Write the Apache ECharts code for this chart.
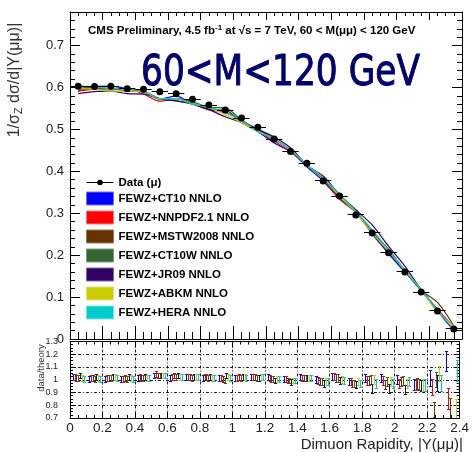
<!DOCTYPE html>
<html>
<head>
<meta charset="utf-8">
<script src="https://cdn.jsdelivr.net/npm/echarts@6/dist/echarts.min.js"></script>
<style>
  html, body { margin: 0; padding: 0; background: #fff; }
  #chart { width: 472px; height: 452px; }
</style>
</head>
<body>
<div id="chart"></div>
<script>
// Bin centres of |Y(mumu)| (bin width 0.1)
const rapidity = [0.05, 0.15, 0.25, 0.35, 0.45, 0.55, 0.65, 0.75, 0.85, 0.95, 1.05, 1.15,
                  1.25, 1.35, 1.45, 1.55, 1.65, 1.75, 1.85, 1.95, 2.05, 2.15, 2.25, 2.35];

// Measured normalised cross section 1/sigma dsigma/d|Y|
const dataXsec = [0.603, 0.602, 0.603, 0.597, 0.596, 0.590, 0.585, 0.572, 0.558, 0.546, 0.527, 0.505,
                  0.477, 0.447, 0.419, 0.377, 0.341, 0.296, 0.253, 0.206, 0.160, 0.112, 0.0668, 0.0239];

// data/theory ratios for each PDF set
const ratioCT10    = [1.02, 1.00, 1.00, 1.00, 1.01, 1.03, 1.01, 1.02, 1.01, 1.01, 1.01, 1.02,
                      1.02, 1.00, 1.02, 1.00, 1.02, 0.98, 1.01, 1.01, 1.00, 0.96, 1.01, 1.145];
const ratioNNPDF   = [1.02, 1.01, 1.01, 1.00, 1.02, 1.04, 1.02, 1.02, 1.02, 1.01, 1.01, 1.02,
                      1.01, 1.00, 1.01, 0.99, 1.02, 0.98, 0.99, 0.99, 0.97, 0.96, 0.94, 0.85];
const ratioMSTW    = [1.01, 1.01, 1.01, 1.01, 1.01, 1.03, 1.03, 1.02, 1.02, 1.00, 1.02, 1.02,
                      1.00, 0.99, 1.01, 0.98, 1.01, 0.97, 0.99, 0.96, 0.98, 0.965, 0.765, 0.77];
const ratioCT10W   = [1.01, 1.00, 1.01, 1.00, 1.01, 1.03, 1.02, 1.01, 1.01, 0.99, 1.01, 1.01,
                      1.00, 0.99, 1.01, 0.98, 1.01, 0.97, 1.00, 0.98, 0.99, 0.96, 1.00, null];
const ratioJR09    = [1.03, 1.02, 1.02, 1.02, 1.02, 1.03, 1.03, 1.02, 1.02, 1.03, 1.02, 1.01,
                      0.99, 0.98, 1.01, 0.97, 0.99, 0.96, 0.93, 0.93, 0.92, 0.95, 0.97, null];
const ratioABKM    = [1.01, 1.01, 1.02, 1.01, 1.01, 1.03, 1.02, 1.02, 1.01, 1.02, 1.02, 1.02,
                      1.00, 0.99, 1.01, 0.98, 1.00, 0.98, 1.00, 0.98, 0.97, 0.955, 1.045, 0.765];
const ratioHERA    = [1.00, 1.00, 1.01, 1.00, 1.01, 1.03, 1.02, 1.02, 1.01, 1.01, 1.01, 1.02,
                      1.00, 0.99, 1.01, 0.98, 0.99, 0.97, 0.97, 0.97, 0.98, 0.955, 0.97, 1.07];

// Uncertainty on the ratio in each bin
const ratioErr = [0.022, 0.022, 0.022, 0.022, 0.022, 0.022, 0.022, 0.022, 0.022, 0.022, 0.022, 0.022,
                  0.022, 0.022, 0.022, 0.028, 0.028, 0.028, 0.035, 0.035, 0.035, 0.045, 0.06, 0.08];

const theoryNames = ['FEWZ+CT10 NNLO', 'FEWZ+NNPDF2.1 NNLO', 'FEWZ+MSTW2008 NNLO', 'FEWZ+CT10W NNLO',
                     'FEWZ+JR09 NNLO', 'FEWZ+ABKM NNLO', 'FEWZ+HERA NNLO'];
const theoryRatios = [ratioCT10, ratioNNPDF, ratioMSTW, ratioCT10W, ratioJR09, ratioABKM, ratioHERA];
const theoryColors = ['#0000ff', '#ff0000', '#663300', '#336633', '#330066', '#cccc00', '#00cccc'];
const theoryEdges  = ['#7070ff', '#ff7a7a', '#9a7a5a', '#7a9a7a', '#7a6a9a', '#e4e47a', '#7ae4e4'];
// horizontal placement of each set's ratio marker inside its bin
const ratioShift = [0.02, 0.032, 0.043, 0.055, 0.066, 0.078, 0.09];

const dataName = 'Data (\u03bc)';
const FONT = 'Liberation Sans, Arial, Helvetica, sans-serif';

const chart = echarts.init(document.getElementById('chart'), null, { renderer: 'canvas' });

function crisp(v) { return Math.round(v - 0.5) + 0.5; }

function ratioBar(params, api) {
  const x = api.value(0), r = api.value(1), e = api.value(2);
  const top = api.coord([x, r + e]);
  const bot = api.coord([x, r - e]);
  const c = api.visual('color');
  const px = crisp(top[0]);
  const hw = 1.6;
  const st = { stroke: c, lineWidth: 1 };
  return {
    type: 'group',
    children: [
      { type: 'line', shape: { x1: px, y1: top[1], x2: px, y2: bot[1] }, style: st },
      { type: 'line', shape: { x1: px - hw, y1: crisp(top[1]), x2: px + hw, y2: crisp(top[1]) }, style: st },
      { type: 'line', shape: { x1: px - hw, y1: crisp(bot[1]), x2: px + hw, y2: crisp(bot[1]) }, style: st }
    ]
  };
}

function binBar(params, api) {
  const x = api.value(0), y = api.value(1);
  const a = api.coord([x - 0.05, y]);
  const b = api.coord([x + 0.05, y]);
  return {
    type: 'line',
    shape: { x1: a[0], y1: crisp(a[1]), x2: b[0], y2: crisp(b[1]) },
    style: { stroke: '#000', lineWidth: 1 }
  };
}

const series = [];

// Theory curves in the upper panel: data / (data/theory)
theoryNames.forEach((name, k) => {
  const r = theoryRatios[k];
  series.push({
    name: name,
    type: 'line',
    xAxisIndex: 0, yAxisIndex: 0,
    data: rapidity.map((x, i) => [x, r[i] == null ? '-' : dataXsec[i] / r[i]]),
    showSymbol: false,
    symbol: 'none',
    smooth: 0.3,
    color: theoryColors[k],
    lineStyle: { color: theoryColors[k], width: 1.2 },
    z: 2,
    silent: true
  });
});

// Bin-width bars of the measurement
series.push({
  name: 'dataBins',
  type: 'custom',
  xAxisIndex: 0, yAxisIndex: 0,
  renderItem: binBar,
  data: rapidity.map((x, i) => [x, dataXsec[i]]),
  encode: { x: 0, y: 1 },
  z: 3,
  silent: true
});

// Measured points
series.push({
  name: dataName,
  type: 'line',
  xAxisIndex: 0, yAxisIndex: 0,
  data: rapidity.map((x, i) => [x, dataXsec[i]]),
  symbol: 'circle',
  symbolSize: 7,
  showSymbol: true,
  color: '#000',
  itemStyle: { color: '#000' },
  lineStyle: { opacity: 0 },
  z: 4,
  silent: true
});

// Ratio markers in the lower panel
theoryNames.forEach((name, k) => {
  const r = theoryRatios[k];
  const pts = [];
  rapidity.forEach((x, i) => {
    if (r[i] != null) pts.push([x - 0.05 + ratioShift[k], r[i], ratioErr[i]]);
  });
  series.push({
    name: name + ' ratio',
    type: 'custom',
    xAxisIndex: 2, yAxisIndex: 2,
    renderItem: ratioBar,
    data: pts,
    encode: { x: 0, y: 1 },
    color: theoryColors[k],
    itemStyle: { color: theoryColors[k] },
    clip: true,
    z: 3,
    silent: true
  });
});

const black = { color: '#000', width: 1 };
const dashed = { color: '#222', width: 1, type: [3, 2, 1, 2] };

function xAxisCfg(grid, pos, majorLen, minorLen, labels, split) {
  return {
    gridIndex: grid, type: 'value', position: pos,
    min: 0, max: 2.4, interval: 0.2,
    axisLine: { show: true, onZero: false, lineStyle: black },
    axisTick: { show: true, inside: true, length: majorLen, lineStyle: black },
    minorTick: { show: true, splitNumber: 4, length: minorLen, lineStyle: black },
    axisLabel: labels ? {
      show: true, margin: 3, color: '#222', fontSize: 13.5, fontFamily: FONT,
      showMinLabel: true, showMaxLabel: true,
      formatter: v => String(+v.toFixed(1))
    } : { show: false },
    splitLine: split ? { show: true, lineStyle: dashed } : { show: false },
    minorSplitLine: { show: false }
  };
}

function yAxisCfg(grid, pos, min, max, minorSplit, majorLen, minorLen, labels, split) {
  return {
    gridIndex: grid, type: 'value', position: pos,
    min: min, max: max, interval: 0.1,
    axisLine: { show: true, onZero: false, lineStyle: black },
    axisTick: { show: true, inside: true, length: majorLen, lineStyle: black },
    minorTick: { show: true, splitNumber: minorSplit, length: minorLen, lineStyle: black },
    axisLabel: labels ? Object.assign({
      show: true, color: '#222', fontFamily: FONT,
      showMinLabel: true, showMaxLabel: true,
      formatter: v => (Math.abs(v * 10 - Math.round(v * 10)) < 1e-6 ? String(+v.toFixed(1)) : '')
    }, labels) : { show: false },
    splitLine: split ? { show: true, lineStyle: dashed } : { show: false }
  };
}

const option = {
  animation: false,
  backgroundColor: '#fff',
  grid: [
    { left: 70, top: 12, width: 392, height: 327 },
    { left: 70, top: 341.5, width: 392, height: 76.5 }
  ],
  xAxis: [
    xAxisCfg(0, 'bottom', 13, 7, false, false),
    xAxisCfg(0, 'top', 8, 4, false, false),
    xAxisCfg(1, 'bottom', 6, 3, true, true),
    xAxisCfg(1, 'top', 6, 3, false, false)
  ],
  yAxis: [
    yAxisCfg(0, 'left', 0, 0.78, 5, 10, 5, { fontSize: 13, margin: 6 }, false),
    yAxisCfg(0, 'right', 0, 0.78, 5, 10, 5, null, false),
    yAxisCfg(1, 'left', 0.7, 1.3, 4, 6, 3, { fontSize: 9, margin: 12 }, true),
    yAxisCfg(1, 'right', 0.7, 1.3, 4, 6, 3, null, false)
  ],
  legend: [
    {
      data: [{ name: dataName, lineStyle: { color: '#000', width: 1, opacity: 1 } }],
      orient: 'vertical', left: 86, top: 176.5, padding: 0,
      itemWidth: 27, itemHeight: 7,
      lineStyle: { color: '#000', width: 1, opacity: 1 },
      textStyle: { color: '#000', fontSize: 11.5, fontWeight: 'bold', fontFamily: FONT },
      selectedMode: false
    },
    {
      data: theoryNames.map((n, k) => ({
        name: n, icon: 'rect',
        itemStyle: { color: theoryColors[k], borderColor: theoryEdges[k], borderWidth: 1 }
      })),
      orient: 'vertical', left: 86, top: 191.5, padding: 0,
      itemWidth: 27, itemHeight: 13, itemGap: 5,
      textStyle: { color: '#000', fontSize: 11.5, fontWeight: 'bold', fontFamily: FONT },
      selectedMode: false
    }
  ],
  graphic: [
    {
      type: 'text', x: 141, y: 74, scaleX: 0.8, z: 10,
      style: {
        text: '60<M<120 GeV', fill: '#00007a', stroke: '#000030', lineWidth: 1,
        fontSize: 43, fontFamily: 'DejaVu Sans', align: 'left', verticalAlign: 'middle'
      }
    },
    {
      type: 'text', x: 88, y: 31, z: 10,
      style: {
        text: 'CMS Preliminary, 4.5 fb{sup|-1} at \u221as = 7 TeV, 60 < M(\u03bc\u03bc) < 120 GeV',
        fill: '#000', fontSize: 11.5, fontWeight: 'bold', fontFamily: FONT,
        align: 'left', verticalAlign: 'middle',
        rich: {
          sup: { fontSize: 8, fontWeight: 'bold', fontFamily: FONT, fill: '#000', padding: [0, 0, 6, 0] }
        }
      }
    },
    {
      type: 'text', x: 15, y: 80, rotation: Math.PI / 2, z: 10,
      style: {
        text: '1/\u03c3{sub|Z} d\u03c3/d|Y(\u03bc\u03bc)|',
        fill: '#333', fontSize: 16, fontFamily: FONT,
        align: 'center', verticalAlign: 'middle',
        rich: {
          sub: { fontSize: 11, fontFamily: FONT, fill: '#333', padding: [7, 0, 0, 0] }
        }
      }
    },
    {
      type: 'text', x: 41.5, y: 368, rotation: Math.PI / 2, z: 10,
      style: {
        text: 'data/theory', fill: '#333', fontSize: 9.5, fontFamily: FONT,
        align: 'center', verticalAlign: 'middle'
      }
    },
    {
      type: 'text', x: 463, y: 445, z: 10,
      style: {
        text: 'Dimuon Rapidity, |Y(\u03bc\u03bc)|', fill: '#222', fontSize: 15, fontFamily: FONT,
        align: 'right', verticalAlign: 'middle'
      }
    }
  ],
  series: series
};

chart.setOption(option);
</script>
</body>
</html>
